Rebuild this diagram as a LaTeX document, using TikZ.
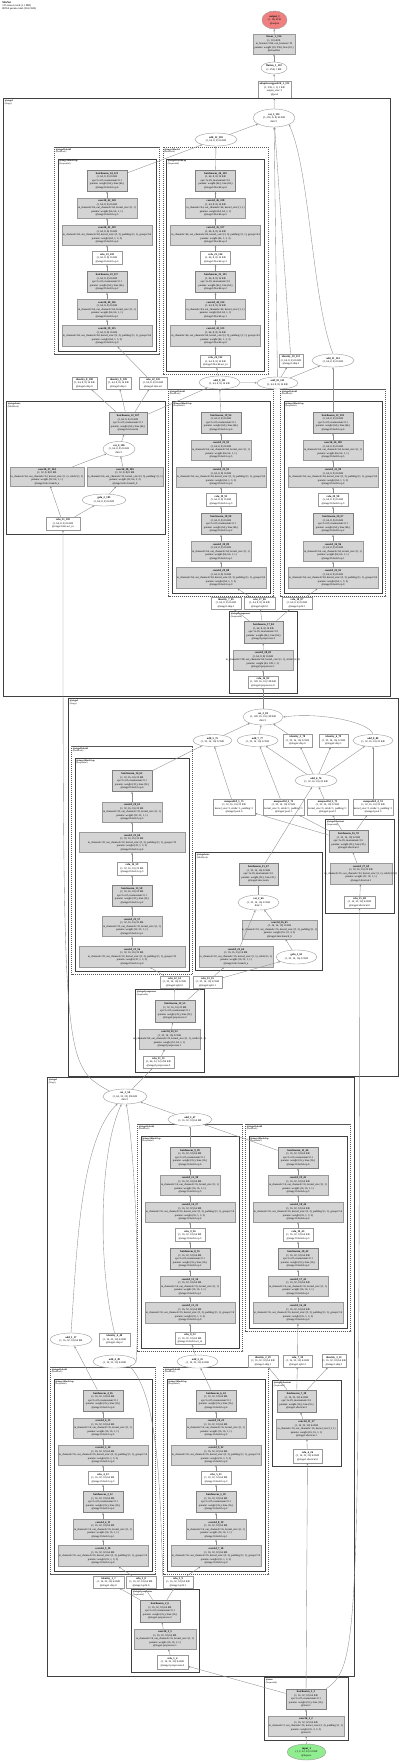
\documentclass[tikz,border=0pt]{standalone}
\usepackage{fontspec}
\setmainfont{Liberation Serif}
\usepackage{tikz}
\usetikzlibrary{arrows.meta, shapes.geometric}
\definecolor{outred}{HTML}{F08080}
\definecolor{ingreen}{HTML}{90EE90}
\newcommand{\spill}[1]{\makebox[0pt]{#1}}

\begin{document}
\begin{tikzpicture}[x=1pt, y=-1pt,
  every node/.style={font=\fontsize{2.7}{3.5}\selectfont, align=center, inner sep=0.2pt},
  sz/.style 2 args={minimum width=#1, minimum height=#2},
  paramnode/.style={rectangle, draw=black!40, fill=black!17, line width=0.4pt},
  bnnode/.style={paramnode, draw=black!50, line width=0.7pt},
  opnode/.style={rectangle, draw=black!40, fill=white, line width=0.4pt},
  ovalnode/.style={ellipse, draw=black!40, fill=white, line width=0.4pt},
  modsolid/.style={draw=black!75, line width=1pt},
  moddash/.style={draw=black!65, line width=0.5pt, dash pattern=on 1.2pt off 0.8pt},
  modlabel/.style={anchor=north west, font=\fontsize{2.3}{2.8}\selectfont, align=left},
  flow/.style={draw=black!45, line width=0.35pt, -{Stealth[length=2.2pt, width=1.8pt]}}]

\fill[white] (0,0) rectangle (400,1762);
\useasboundingbox (0,0) rectangle (400,1762);

\node[modlabel, font=\fontsize{2.7}{3.1}\selectfont] (title) at (2,1.5)
  {\textbf{MixNet}\\135 tensors total (1.1 MB)\\80954 params total (324.2 KB)};

% head
\node[ovalnode, fill=outred, sz={25}{18}] (out) at (274.5,20) {\textbf{output\_1}\\(1, 10) 40 B\\@output};
\node[paramnode, sz={42}{20}] (lin) at (274,44) {\textbf{linear\_1\_134}\\(1, 10) 40 B\\\spill{in\_features=256, out\_features=10}\\\spill{params: weight (10, 256), bias (10,)}\\@classifier};
\node[ovalnode, sz={26}{12}] (flat) at (274,68) {\textbf{flatten\_1\_133}\\(1, 256) 1 KB};
\node[opnode, sz={33}{17}] (pool) at (274.5,89.5) {\textbf{adaptiveavgpool2d\_1\_132}\\(1, 256, 1, 1) 1 KB\\output\_size=1\\@pool};

% residual blocks
\foreach \nm/\cx/\yo/\st/\hw/\ext/\md/\sh/\ch/\kc/\bc/\tc/\rc in {
  c3/103/1390/1/49/0/stage1.block1/{(1, 16, 32, 32) 64 KB}/16/3/3/10/4,
  c4/216/1390/1/49/0/stage1.block2/{(1, 16, 32, 32) 64 KB}/16/7/5/18/5,
  c1/190/1147/1/49/1/stage1.block3/{(1, 16, 32, 32) 64 KB}/16/12/8/33/9,
  c2/298/1147/1/49/0/stage1.block4/{(1, 16, 32, 32) 64 KB}/16/16/10/40/10,
  b1/132/769/1.13/57/0/stage2.block1/{(1, 32, 16, 16) 32 KB}/32/21/13/56/14,
  a5/221/412/1/49/0/stage3.block1/{(1, 64, 8, 8) 16 KB}/64/29/18/88/19,
  a6/333/412/1/49/0/stage3.block2/{(1, 64, 8, 8) 16 KB}/64/33/20/95/20,
  a1/107/170/1/49/0/stage3.block3/{(1, 64, 8, 8) 16 KB}/64/39/23/115/23,
  a2/215.5/170/1/49/1/stage3.block4/{(1, 64, 8, 8) 16 KB}/64/43/25/123/25} {
  \pgfmathtruncatemacro\ka{\kc+1}
  \pgfmathtruncatemacro\kb{\kc+2}
  \pgfmathtruncatemacro\kd{\kc+3}
  \pgfmathtruncatemacro\bd{\bc+1}
  \pgfmathtruncatemacro\ta{\tc+1}
  \pgfmathtruncatemacro\tb{\tc+2}
  \pgfmathtruncatemacro\td{\tc+3}
  \pgfmathtruncatemacro\te{\tc+4}
  \pgfmathtruncatemacro\tf{\tc+5}
  \pgfmathtruncatemacro\tg{\tc+6}
  \pgfmathtruncatemacro\rx{\rc-1}
  \pgfmathtruncatemacro\tx{\tc-1}
  \pgfmathsetmacro\yb{\yo+166*\st+15+20*\ext}
  \draw[moddash] (\cx-\hw-3.5,\yo-23) rectangle (\cx+\hw+3.5,\yb+3);
  \draw[modsolid, line width=0.9pt] (\cx-\hw,\yo-11) rectangle (\cx+\hw,\yb);
  \node[modlabel] (\nm lo) at (\cx-\hw-2.5,\yo-22) {\textbf{@\md}\\(ResBlock)};
  \node[modlabel] (\nm li) at (\cx-\hw+1,\yo-10) {\textbf{@\md.op}\\(Sequential)};
  \node[bnnode, sz={40}{21}] (\nm b1) at (\cx,\yo+10.5*\st) {\textbf{batchnorm\_\bd\_\tg}\\\sh\\eps=1e-05, momentum=0.1\\\spill{params: weight (\ch,), bias (\ch,)}\\@\md.op.6};
  \node[paramnode, sz={60}{20}] (\nm c1) at (\cx,\yo+38*\st) {\textbf{conv2d\_\kd\_\tf}\\\sh\\\spill{in\_channels=\ch, out\_channels=\ch, kernel\_size=(1, 1)}\\params: weight (\ch, \ch, 1, 1)\\@\md.op.5};
  \node[paramnode, sz={2*\hw-8}{20}] (\nm c2) at (\cx,\yo+65*\st) {\textbf{conv2d\_\kb\_\te}\\\sh\\\spill{in\_channels=\ch, out\_channels=\ch, kernel\_size=(3, 3), padding=(1, 1), groups=\ch}\\params: weight (\ch, 1, 3, 3)\\@\md.op.4};
  \node[opnode, sz={30}{13}] (\nm r) at (\cx,\yo+88*\st) {\textbf{relu\_\rc\_\td}\\\sh\\@\md.op.3};
  \node[bnnode, sz={40}{21}] (\nm b2) at (\cx,\yo+112*\st) {\textbf{batchnorm\_\bc\_\tb}\\\sh\\eps=1e-05, momentum=0.1\\\spill{params: weight (\ch,), bias (\ch,)}\\@\md.op.2};
  \node[paramnode, sz={60}{20}] (\nm c3) at (\cx,\yo+139.5*\st) {\textbf{conv2d\_\ka\_\ta}\\\sh\\\spill{in\_channels=\ch, out\_channels=\ch, kernel\_size=(1, 1)}\\params: weight (\ch, \ch, 1, 1)\\@\md.op.1};
  \node[paramnode, sz={2*\hw-8}{21}] (\nm c4) at (\cx,\yo+166*\st) {\textbf{conv2d\_\kc\_\tc}\\\sh\\\spill{in\_channels=\ch, out\_channels=\ch, kernel\_size=(3, 3), padding=(1, 1), groups=\ch}\\params: weight (\ch, 1, 3, 3)\\@\md.op.0};
  \draw[flow] (\nm c4) -- (\nm c3);
  \draw[flow] (\nm c3) -- (\nm b2);
  \draw[flow] (\nm b2) -- (\nm r);
  \draw[flow] (\nm r) -- (\nm c2);
  \draw[flow] (\nm c2) -- (\nm c1);
  \draw[flow] (\nm c1) -- (\nm b1);
  \ifnum\ext=1
    \node[opnode, sz={30}{12}] (\nm x) at (\cx,\yo+191.5) {\textbf{relu\_\rx\_\tx}\\\sh\\@\md.act\_in};
    \draw[flow] (\nm x) -- (\nm c4);
  \fi
}

% stage 3
\draw[modsolid] (3,98) rectangle (390,696);
\node[modlabel] (labA) at (4.5,99.5) {\textbf{@stage3}\\(Stage)};
\node[ovalnode, sz={42}{18}] (cat5) at (274,118) {\textbf{cat\_5\_131}\\(1, 256, 8, 8) 64 KB\\dim=1};
\node[ovalnode, sz={42}{13}] (add12) at (216,139.5) {\textbf{add\_12\_130}\\(1, 64, 8, 8) 16 KB};
\node[opnode, sz={25}{12}] (id8) at (84.5,383) {\textbf{identity\_8\_108}\\(1, 64, 8, 8) 16 KB\\@stage3.skip.0};
\node[opnode, sz={25}{12}] (id9) at (118.5,383) {\textbf{identity\_9\_109}\\(1, 64, 8, 8) 16 KB\\@stage3.skip.1};
\node[opnode, sz={28}{12}] (relu22) at (153,383) {\textbf{relu\_22\_110}\\(1, 64, 8, 8) 16 KB\\@stage3.mix.act};
\node[ovalnode, sz={41}{13}] (add9) at (219.5,382.5) {\textbf{add\_9\_111}\\(1, 64, 8, 8) 16 KB};
\node[ovalnode, sz={41}{12}] (add10) at (277.5,383) {\textbf{add\_10\_112}\\(1, 64, 8, 8) 16 KB};
\node[opnode, sz={24}{13}] (id10) at (291,360.5) {\textbf{identity\_10\_113}\\(1, 64, 8, 8) 16 KB\\@stage3.skip.2};
\node[ovalnode, sz={42}{13}] (add11) at (333,360.5) {\textbf{add\_11\_114}\\(1, 64, 8, 8) 16 KB};

\draw[modsolid] (6,401) rectangle (165,534);
\node[modlabel] (labA3) at (7.5,402.5) {\textbf{@stage3.mix}\\(MixBlock)};
\node[bnnode, sz={38}{22}] (bn22) at (128,423) {\textbf{batchnorm\_22\_107}\\(1, 64, 8, 8) 16 KB\\eps=1e-05, momentum=0.1\\\spill{params: weight (64,), bias (64,)}\\@stage3.mix.norm};
\node[ovalnode, sz={32}{15}] (cat4) at (119,449) {\textbf{cat\_4\_106}\\(1, 64, 8, 8) 16 KB\\dim=1};
\node[paramnode, sz={74}{19}] (conv37) at (47,476.5) {\textbf{conv2d\_37\_104}\\(1, 32, 8, 8) 8 KB\\\spill{in\_channels=64, out\_channels=32, kernel\_size=(1, 1), stride=(1, 1)}\\params: weight (32, 64, 1, 1)\\@stage3.mix.branch\_a};
\node[paramnode, sz={76}{19}] (conv38) at (125,476.5) {\textbf{conv2d\_38\_105}\\(1, 32, 8, 8) 8 KB\\\spill{in\_channels=64, out\_channels=32, kernel\_size=(3, 3), padding=(1, 1)}\\params: weight (32, 64, 3, 3)\\@stage3.mix.branch\_b};
\node[ovalnode, sz={44}{12}] (gelu2) at (104,500) {\textbf{gelu\_2\_103}\\(1, 64, 8, 8) 16 KB};
\node[opnode, sz={34}{13}] (relu21) at (63,523.5) {\textbf{relu\_21\_102}\\(1, 64, 8, 8) 16 KB\\@stage3.mix.act\_in};

\node[opnode, sz={30}{12}] (id7) at (226,603) {\textbf{identity\_7\_85}\\(1, 64, 8, 8) 16 KB\\@stage3.skip.3};
\node[opnode, sz={31}{12}] (relu17) at (259.5,603) {\textbf{relu\_17\_86}\\(1, 64, 8, 8) 16 KB\\@stage3.split.0};
\node[opnode, sz={30}{12}] (relu18) at (297,603) {\textbf{relu\_18\_87}\\(1, 64, 8, 8) 16 KB\\@stage3.split.1};

\draw[modsolid] (229,611) rectangle (297,693);
\node[modlabel] (labA4) at (230.5,612.5) {\textbf{@stage3.preprocess}\\(Sequential)};
\node[bnnode, sz={39}{22}] (bn17) at (263.5,632) {\textbf{batchnorm\_17\_84}\\(1, 64, 8, 8) 16 KB\\eps=1e-05, momentum=0.1\\\spill{params: weight (64,), bias (64,)}\\@stage3.preprocess.2};
\node[paramnode, sz={60}{20}] (conv28) at (263,660) {\textbf{conv2d\_28\_83}\\(1, 64, 8, 8) 16 KB\\\spill{in\_channels=128, out\_channels=64, kernel\_size=(1, 1), stride=(2, 2)}\\params: weight (64, 128, 1, 1)\\@stage3.preprocess.1};
\node[opnode, sz={30}{12}] (relu16) at (263,682) {\textbf{relu\_16\_82}\\(1, 128, 16, 16) 128 KB\\@stage3.preprocess.0};

% stage 2
\draw[modsolid] (68,698) rectangle (398,1076);
\node[modlabel] (labB) at (69.5,699.5) {\textbf{@stage2}\\(Stage)};
\node[ovalnode, sz={40}{16}] (cat3) at (263,717) {\textbf{cat\_3\_81}\\(1, 128, 16, 16) 128 KB\\dim=1};
\node[ovalnode, sz={39}{12}] (add5) at (212.5,740.5) {\textbf{add\_5\_75}\\(1, 32, 16, 16) 32 KB};
\node[ovalnode, sz={41}{12}] (add7) at (257.5,740.5) {\textbf{add\_7\_77}\\(1, 32, 16, 16) 32 KB};
\node[opnode, sz={29}{13}] (id5) at (297.5,740.5) {\textbf{identity\_5\_78}\\(1, 32, 16, 16) 32 KB\\@stage2.skip.0};
\node[opnode, sz={29}{13}] (id6) at (333.5,740.5) {\textbf{identity\_6\_79}\\(1, 32, 16, 16) 32 KB\\@stage2.skip.1};
\node[ovalnode, sz={40}{12}] (add8) at (373,740.5) {\textbf{add\_8\_80}\\(1, 32, 16, 16) 32 KB};
\node[ovalnode, sz={42}{13}] (add6) at (316,780.5) {\textbf{add\_6\_76}\\(1, 32, 16, 16) 32 KB};
\node[opnode, sz={42}{16}] (mp1) at (234,807) {\textbf{maxpool2d\_1\_71}\\(1, 32, 16, 16) 32 KB\\\spill{kernel\_size=3, stride=1, padding=1}\\@stage2.pool.0};
\node[opnode, sz={41}{16}] (mp2) at (283.5,807) {\textbf{maxpool2d\_2\_72}\\(1, 32, 16, 16) 32 KB\\\spill{kernel\_size=3, stride=1, padding=1}\\@stage2.pool.1};
\node[opnode, sz={41}{16}] (mp3) at (327.5,807) {\textbf{maxpool2d\_3\_73}\\(1, 32, 16, 16) 32 KB\\\spill{kernel\_size=3, stride=1, padding=1}\\@stage2.pool.2};
\node[opnode, sz={40}{16}] (mp4) at (373,807) {\textbf{maxpool2d\_4\_74}\\(1, 32, 16, 16) 32 KB\\\spill{kernel\_size=3, stride=1, padding=1}\\@stage2.pool.3};

\draw[modsolid] (325,819) rectangle (394,913);
\node[modlabel] (labBp) at (326.5,820.5) {\textbf{@stage2.shortcut}\\(Sequential)};
\node[bnnode, sz={39}{22}] (bn16) at (348.5,841) {\textbf{batchnorm\_16\_70}\\(1, 32, 16, 16) 32 KB\\eps=1e-05, momentum=0.1\\\spill{params: weight (32,), bias (32,)}\\@stage2.shortcut.2};
\node[paramnode, sz={62}{21}] (conv27) at (361,873.5) {\textbf{conv2d\_27\_69}\\(1, 32, 16, 16) 32 KB\\\spill{in\_channels=16, out\_channels=32, kernel\_size=(1, 1), stride=(2, 2)}\\params: weight (32, 16, 1, 1)\\@stage2.shortcut.1};
\node[opnode, sz={31}{12}] (relu15) at (359.5,902) {\textbf{relu\_15\_68}\\(1, 16, 32, 32) 64 KB\\@stage2.shortcut.0};

\draw[modsolid] (195,852) rectangle (322,970);
\node[modlabel] (labB2) at (196.5,853.5) {\textbf{@stage2.mix}\\(MixBlock)};
\node[bnnode, sz={39}{22}] (bn15) at (258.5,874) {\textbf{batchnorm\_15\_67}\\(1, 32, 16, 16) 32 KB\\eps=1e-05, momentum=0.1\\\spill{params: weight (32,), bias (32,)}\\@stage2.mix.norm};
\node[ovalnode, sz={41}{15}] (cat2) at (258.5,902.5) {\textbf{cat\_2\_66}\\(1, 32, 16, 16) 32 KB\\dim=1};
\node[paramnode, sz={75}{19}] (conv26) at (279.5,929.5) {\textbf{conv2d\_26\_65}\\(1, 16, 16, 16) 16 KB\\\spill{in\_channels=32, out\_channels=16, kernel\_size=(3, 3), padding=(1, 1)}\\params: weight (16, 32, 3, 3)\\@stage2.mix.branch\_b};
\node[paramnode, sz={74}{21}] (conv25) at (236,956.5) {\textbf{conv2d\_25\_64}\\(1, 16, 16, 16) 16 KB\\\spill{in\_channels=32, out\_channels=16, kernel\_size=(1, 1), stride=(1, 1)}\\params: weight (16, 32, 1, 1)\\@stage2.mix.branch\_a};
\node[ovalnode, sz={41}{14}] (gelu1) at (296.5,957) {\textbf{gelu\_1\_63}\\(1, 32, 16, 16) 32 KB};

\node[opnode, sz={29}{12}] (relu12) at (174.5,982) {\textbf{relu\_12\_54}\\(1, 32, 16, 16) 32 KB\\@stage2.split.0};
\node[opnode, sz={29}{12}] (relu13) at (207.5,982) {\textbf{relu\_13\_55}\\(1, 32, 16, 16) 32 KB\\@stage2.split.1};

\draw[modsolid] (135,989) rectangle (204,1072);
\node[modlabel] (labB3) at (136.5,990.5) {\textbf{@stage2.preprocess}\\(Sequential)};
\node[bnnode, sz={40}{22}] (bn12) at (175,1011) {\textbf{batchnorm\_12\_53}\\(1, 32, 16, 16) 32 KB\\eps=1e-05, momentum=0.1\\\spill{params: weight (32,), bias (32,)}\\@stage2.preprocess.2};
\node[paramnode, sz={61}{20}] (conv20) at (169.5,1039) {\textbf{conv2d\_20\_52}\\(1, 32, 16, 16) 32 KB\\\spill{in\_channels=64, out\_channels=32, kernel\_size=(1, 1), stride=(2, 2)}\\params: weight (32, 64, 1, 1)\\@stage2.preprocess.1};
\node[opnode, sz={31}{12}] (relu11) at (158.5,1062) {\textbf{relu\_11\_51}\\(1, 64, 32, 32) 256 KB\\@stage2.preprocess.0};

% stage 1
\draw[modsolid] (47,1077) rectangle (354,1676);
\node[modlabel] (labC) at (48.5,1078.5) {\textbf{@stage1}\\(Stage)};
\node[ovalnode, sz={44}{15}] (cat1) at (125,1096.5) {\textbf{cat\_1\_50}\\(1, 64, 32, 32) 256 KB\\dim=1};
\node[ovalnode, sz={44}{13}] (add3) at (190,1119.5) {\textbf{add\_3\_47}\\(1, 16, 32, 32) 64 KB};
\node[ovalnode, sz={42}{13}] (add1) at (71,1339.5) {\textbf{add\_1\_17}\\(1, 16, 32, 32) 64 KB};
\node[opnode, sz={31}{13}] (id4) at (114.5,1339.5) {\textbf{identity\_4\_48}\\(1, 16, 32, 32) 64 KB\\@stage1.skip.2};
\node[ovalnode, sz={43}{13}] (add4) at (114.5,1361.5) {\textbf{add\_4\_49}\\(1, 16, 32, 32) 64 KB};
\node[ovalnode, sz={41}{13}] (add2) at (197.5,1361.5) {\textbf{add\_2\_25}\\(1, 16, 32, 32) 64 KB};
\node[opnode, sz={30}{12}] (id2) at (263,1361) {\textbf{identity\_2\_29}\\(1, 16, 32, 32) 64 KB\\@stage1.skip.1};
\node[opnode, sz={29}{12}] (relu7) at (297.5,1361) {\textbf{relu\_7\_30}\\(1, 16, 32, 32) 64 KB\\@stage1.split.2};
\node[opnode, sz={24}{13}] (id3) at (334,1361) {\textbf{identity\_3\_31}\\(1, 16, 32, 32) 64 KB\\@stage1.skip.3};

\draw[modsolid] (272,1380) rectangle (341,1466);
\node[modlabel] (labCp) at (273.5,1381.5) {\textbf{@stage1.shortcut}\\(Sequential)};
\node[bnnode, sz={39}{22}] (bn7) at (296.5,1401) {\textbf{batchnorm\_7\_28}\\(1, 16, 32, 32) 64 KB\\eps=1e-05, momentum=0.1\\\spill{params: weight (16,), bias (16,)}\\@stage1.shortcut.2};
\node[paramnode, sz={61}{20}] (conv11) at (306.5,1429) {\textbf{conv2d\_11\_27}\\(1, 16, 32, 32) 64 KB\\\spill{in\_channels=16, out\_channels=16, kernel\_size=(1, 1)}\\params: weight (16, 16, 1, 1)\\@stage1.shortcut.1};
\node[opnode, sz={29}{14}] (relu6) at (307.5,1456) {\textbf{relu\_6\_26}\\(1, 16, 32, 32) 64 KB\\@stage1.shortcut.0};

\node[opnode, sz={31}{12}] (id1) at (108.5,1582) {\textbf{identity\_1\_7}\\(1, 16, 32, 32) 64 KB\\@stage1.skip.0};
\node[opnode, sz={30}{12}] (relu2) at (141,1582) {\textbf{relu\_2\_8}\\(1, 16, 32, 32) 64 KB\\@stage1.split.0};
\node[opnode, sz={30}{12}] (relu3) at (178,1582) {\textbf{relu\_3\_9}\\(1, 16, 32, 32) 64 KB\\@stage1.split.1};

\draw[modsolid] (131,1589) rectangle (199,1672);
\node[modlabel] (labC5) at (132.5,1590.5) {\textbf{@stage1.preprocess}\\(Sequential)};
\node[bnnode, sz={40}{22}] (bn2) at (160,1611) {\textbf{batchnorm\_2\_6}\\(1, 16, 32, 32) 64 KB\\eps=1e-05, momentum=0.1\\\spill{params: weight (16,), bias (16,)}\\@stage1.preprocess.2};
\node[paramnode, sz={62}{20}] (conv2) at (165,1639) {\textbf{conv2d\_2\_5}\\(1, 16, 32, 32) 64 KB\\\spill{in\_channels=16, out\_channels=16, kernel\_size=(1, 1)}\\params: weight (16, 16, 1, 1)\\@stage1.preprocess.1};
\node[opnode, sz={31}{14}] (relu1) at (172.5,1662) {\textbf{relu\_1\_4}\\(1, 16, 32, 32) 64 KB\\@stage1.preprocess.0};

% stem
\draw[modsolid] (264,1677) rectangle (348,1740);
\node[modlabel] (labS) at (265.5,1678.5) {\textbf{@stem}\\(Sequential)};
\node[bnnode, sz={40}{20}] (bn1) at (306,1699) {\textbf{batchnorm\_1\_3}\\(1, 16, 32, 32) 64 KB\\eps=1e-05, momentum=0.1\\\spill{params: weight (16,), bias (16,)}\\@stem.1};
\node[paramnode, sz={76}{20}] (conv1) at (306,1726) {\textbf{conv2d\_1\_2}\\(1, 16, 32, 32) 64 KB\\\spill{in\_channels=3, out\_channels=16, kernel\_size=(3, 3), padding=(1, 1)}\\params: weight (16, 3, 3, 3)\\@stem.0};
\node[ovalnode, fill=ingreen, sz={39}{16}] (input) at (306.5,1752) {\textbf{input\_1}\\(1, 3, 32, 32) 12 KB\\@input.x};

% edges
\draw[flow] (input) -- (conv1);
\draw[flow] (conv1) -- (bn1);
\draw[flow] (bn1) -- (relu1);
\draw[flow] (bn1) -- (relu6);
\draw[flow] (bn1.north east) .. controls (359,1665) and (359,1640) .. (relu15.south);
\draw[flow] (relu1) -- (conv2);
\draw[flow] (conv2) -- (bn2);
\draw[flow] (bn2) -- (id1);
\draw[flow] (bn2) -- (relu2);
\draw[flow] (bn2) -- (relu3);
\draw[flow] (relu2) -- (c3c4);
\draw[flow] (relu3) -- (c4c4);
\draw[flow] (relu3.north west) .. controls (160,1500) and (160,1400) .. (add4.south east);
\draw[flow] (c3b1) -- (add1);
\draw[flow] (c4b1) -- (add2);
\draw[flow] (relu6) -- (conv11);
\draw[flow] (conv11) -- (bn7);
\draw[flow] (bn7) -- (id2);
\draw[flow] (bn7) -- (relu7);
\draw[flow] (bn7) -- (id3);
\draw[flow] (relu7) -- (c2c4);
\draw[flow] (add2) -- (c1x);
\draw[flow] (c1b1) -- (add3);
\draw[flow] (c2b1) -- (add3);
\draw[flow] (add3) -- (cat1);
\draw[flow] (add1.north) .. controls (77,1250) and (80,1140) .. (cat1);
\draw[flow] (id4.north) .. controls (97,1260) and (100,1150) .. (cat1);
\draw[flow] (add4.east) .. controls (140,1300) and (136,1160) .. (cat1);
\draw[flow] (cat1) -- (relu11);
\draw[flow] (cat1.north west) .. controls (63,1065) and (63,1065) .. (relu21.south);

\draw[flow] (relu11) -- (conv20);
\draw[flow] (conv20) -- (bn12);
\draw[flow] (bn12) -- (relu12);
\draw[flow] (bn12) -- (relu13);
\draw[flow] (relu12) -- (b1c4);
\draw[flow] (relu13) -- (conv25);
\draw[flow] (relu13) -- (gelu1);
\draw[flow] (gelu1) -- (conv26);
\draw[flow] (conv25) -- (cat2);
\draw[flow] (conv26) -- (cat2);
\draw[flow] (cat2) -- (bn15);
\draw[flow] (bn15) -- (add6);
\draw[flow] (relu15) -- (conv27);
\draw[flow] (conv27) -- (bn16);
\draw[flow] (bn16) -- (mp1);
\draw[flow] (bn16) -- (mp2);
\draw[flow] (bn16) -- (mp3);
\draw[flow] (bn16) -- (mp4);
\draw[flow] (mp1) -- (add5);
\draw[flow] (mp2) -- (add7);
\draw[flow] (mp3) -- (add6);
\draw[flow] (mp4) -- (add8);
\draw[flow] (b1b1) -- (add5);
\draw[flow] (add6) -- (add7);
\draw[flow] (add6) -- (id5);
\draw[flow] (add6) -- (id6);
\draw[flow] (add6) -- (add8);
\draw[flow] (add5) -- (cat3);
\draw[flow] (add7) -- (cat3);
\draw[flow] (id5) -- (cat3);
\draw[flow] (add8.north) .. controls (370,722) and (320,712) .. (cat3.east);
\draw[flow] (cat3) -- (relu16);

\draw[flow] (relu16) -- (conv28);
\draw[flow] (conv28) -- (bn17);
\draw[flow] (bn17) -- (id7);
\draw[flow] (bn17) -- (relu17);
\draw[flow] (bn17) -- (relu18);
\draw[flow] (relu17) -- (a5c4);
\draw[flow] (relu18) -- (a6c4);
\draw[flow] (relu21) -- (conv37);
\draw[flow] (relu21) -- (gelu2);
\draw[flow] (gelu2) -- (conv38);
\draw[flow] (conv37) -- (cat4);
\draw[flow] (conv38) -- (cat4);
\draw[flow] (cat4) -- (bn22);
\draw[flow] (bn22) -- (id8);
\draw[flow] (bn22) -- (id9);
\draw[flow] (bn22) -- (relu22);
\draw[flow] (bn22) -- (add9);
\draw[flow] (a5b1) -- (add9);
\draw[flow] (a6b1) -- (add11);
\draw[flow] (add9) -- (add10);
\draw[flow] (add9) -- (a2x);
\draw[flow] (add10) -- (id10);
\draw[flow] (add10) -- (add11);
\draw[flow] (relu22) -- (a1c4);
\draw[flow] (a1b1) -- (add12);
\draw[flow] (a2b1) -- (add12);
\draw[flow] (add12) -- (cat5);
\draw[flow] (add10) -- (cat5);
\draw[flow] (id10) -- (cat5);
\draw[flow] (add11.north) .. controls (312,300) and (310,170) .. (cat5.south east);
\draw[flow] (cat5) -- (pool);
\draw[flow] (pool) -- (flat);
\draw[flow] (flat) -- (lin);
\draw[flow] (lin) -- (out);
\end{tikzpicture}
\end{document}
